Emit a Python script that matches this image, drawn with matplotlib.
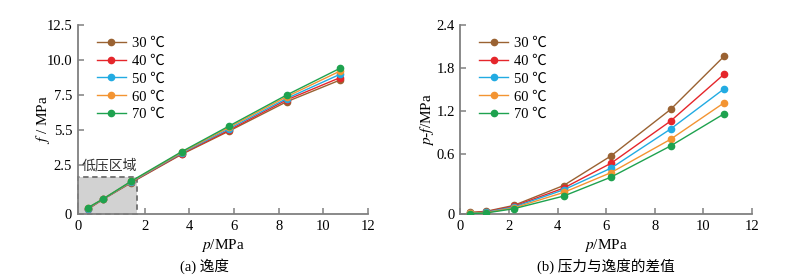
import matplotlib
matplotlib.use('Agg')
from matplotlib import pyplot as plt
from matplotlib.patches import Rectangle
import numpy as np

plt.rcParams['font.family'] = ['Liberation Serif', 'Noto Sans CJK SC']
plt.rcParams['mathtext.fontset'] = 'stix'

LABELS = ['30 ℃', '40 ℃', '50 ℃', '60 ℃', '70 ℃']
COLORS = ['#9a6232', '#e5262b', '#22abe2', '#f39432', '#1ea24f']
AXIS_GRAY = '#808080'

# (a) fugacity
p_a = [0.3, 0.75, 1.6, 3.65, 5.78, 8.35, 10.74]
f_30 = [0.24, 0.74, 1.60, 3.26, 4.93, 7.02, 8.57]
f_40 = [0.26, 0.75, 1.62, 3.30, 5.00, 7.15, 8.74]
f_50 = [0.28, 0.75, 1.64, 3.35, 5.10, 7.25, 8.98]
f_60 = [0.30, 0.76, 1.66, 3.40, 5.20, 7.38, 9.21]
f_70 = [0.32, 0.76, 1.68, 3.45, 5.29, 7.50, 9.41]

# (b) p - f
p_b = [0.4, 1.05, 2.2, 4.25, 6.2, 8.65, 10.85]
d_30 = [0.016, 0.026, 0.085, 0.283, 0.577, 1.218, 1.962]
d_40 = [0.012, 0.021, 0.077, 0.257, 0.504, 1.055, 1.711]
d_50 = [0.008, 0.017, 0.069, 0.240, 0.455, 0.944, 1.506]
d_60 = [0.005, 0.013, 0.060, 0.214, 0.411, 0.800, 1.311]
d_70 = [0.003, 0.010, 0.052, 0.178, 0.366, 0.707, 1.157]

# low pressure region box
LOW_P = 1.78
LOW_F = 1.9


def stretch(cut, k):
    # first interval of the axis is drawn wider than the rest
    def fwd(v):
        v = np.asarray(v, dtype=float)
        return np.where(v <= cut, v * k, v + cut * (k - 1))

    def inv(u):
        u = np.asarray(u, dtype=float)
        return np.where(u <= cut * k, u / k, u - cut * (k - 1))
    return fwd, inv


def style_axes(ax):
    for side in ['top', 'right']:
        ax.spines[side].set_visible(False)
    for side in ['left', 'bottom']:
        ax.spines[side].set_color(AXIS_GRAY)
        ax.spines[side].set_linewidth(1.3)
    ax.tick_params(direction='in', length=4, width=1.1, color=AXIS_GRAY,
                   labelsize=10.5, pad=4)
    ax.legend(loc='upper left', bbox_to_anchor=(0.045, 0.97), frameon=False,
              fontsize=10.5, handlelength=2.0, handletextpad=0.4,
              labelspacing=0.32, borderaxespad=0)


fig = plt.figure(figsize=(8.1, 2.79), dpi=100)
ax1 = fig.add_axes([0.0959, 0.233, 0.3585, 0.677])
ax2 = fig.add_axes([0.5683, 0.233, 0.360, 0.677])

# left chart
ax1.set_xscale('function', functions=stretch(2.0, 1.5))
ax1.set_yscale('function', functions=stretch(2.5, 1.4))
for vals, lab, col in zip([f_30, f_40, f_50, f_60, f_70], LABELS, COLORS):
    ax1.plot(p_a, vals, color=col, lw=1.0, marker='o', ms=4.5, label=lab,
             zorder=3)
ax1.add_patch(Rectangle((0, 0), LOW_P, LOW_F, facecolor='#d2d2d2',
                        edgecolor='#6e6e6e', ls=(0, (3, 2)), lw=1.3,
                        zorder=1, clip_on=False))
ax1.text(0.12, 2.45, '低压区域', fontsize=10, color='#333333', va='center')
ax1.set_xlim(0, 12)
ax1.set_ylim(0, 12.5)
ax1.set_xticks([0, 2, 4, 6, 8, 10, 12])
ax1.set_yticks([0, 2.5, 5, 7.5, 10, 12.5])
ax1.set_yticklabels(['0', '2.5', '5.5', '7.5', '10.0', '12.5'])
ax1.set_xlabel('$p$/MPa', fontsize=11, labelpad=3)
ax1.set_ylabel('$f$ / MPa', fontsize=11, labelpad=-4)
style_axes(ax1)

# right chart
ax2.set_yscale('function', functions=stretch(0.6, 1.41))
for vals, lab, col in zip([d_30, d_40, d_50, d_60, d_70], LABELS, COLORS):
    ax2.plot(p_b, vals, color=col, lw=1.0, marker='o', ms=4.5, label=lab,
             zorder=3)
ax2.set_xlim(0, 12)
ax2.set_ylim(0, 2.4)
ax2.set_xticks([0, 2, 4, 6, 8, 10, 12])
ax2.set_yticks([0, 0.6, 1.2, 1.8, 2.4])
ax2.set_yticklabels(['0', '0.6', '1.2', '1.8', '2.4'])
ax2.set_xlabel('$p$/MPa', fontsize=11, labelpad=3)
ax2.set_ylabel('$p$-$f$/MPa', fontsize=11, labelpad=0.5)
style_axes(ax2)

fig.text(0.253, 0.045, '(a) 逸度', ha='center', va='center', fontsize=10.5)
fig.text(0.748, 0.045, '(b) 压力与逸度的差值', ha='center', va='center',
         fontsize=10.5)

fig.savefig('out.png', dpi=100)
